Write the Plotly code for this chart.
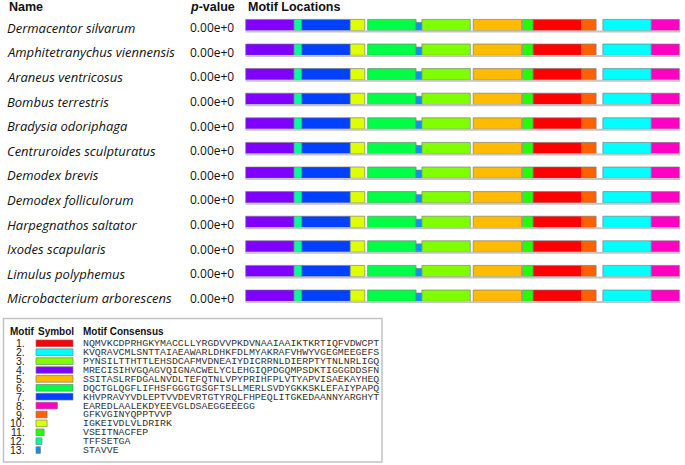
import plotly.graph_objects as go

# ---------------- data ----------------
species = [
    "Dermacentor silvarum", "Amphitetranychus viennensis", "Araneus ventricosus",
    "Bombus terrestris", "Bradysia odoriphaga", "Centruroides sculpturatus",
    "Demodex brevis", "Demodex folliculorum", "Harpegnathos saltator",
    "Ixodes scapularis", "Limulus polyphemus", "Microbacterium arborescens",
]
p_values = ["0.00e+0"] * 12
seq_lengths = [449] * 12

motif_ids = list(range(1, 14))
motif_consensus = [
    "NQMVKCDPRHGKYMACCLLYRGDVVPKDVNAAIAAIKTKRTIQFVDWCPT",
    "KVQRAVCMLSNTTAIAEAWARLDHKFDLMYAKRAFVHWYVGEGMEEGEFS",
    "PYNSILTTHTTLEHSDCAFMVDNEAIYDICRRNLDIERPTYTNLNRLIGQ",
    "MRECISIHVGQAGVQIGNACWELYCLEHGIQPDGQMPSDKTIGGGDDSFN",
    "SSITASLRFDGALNVDLTEFQTNLVPYPRIHFPLVTYAPVISAEKAYHEQ",
    "DQCTGLQGFLIFHSFGGGTGSGFTSLLMERLSVDYGKKSKLEFAIYPAPQ",
    "KHVPRAVYVDLEPTVVDEVRTGTYRQLFHPEQLITGKEDAANNYARGHYT",
    "EAREDLAALEKDYEEVGLDSAEGGEEEGG",
    "GFKVGINYQPPTVVP",
    "IGKEIVDLVLDRIRK",
    "VSEITNACFEP",
    "TFFSETGA",
    "STAVVE",
]
motif_colors = [
    "#FF0000", "#00FFFF", "#80FF00", "#8000FF", "#FFBB00", "#00FF44", "#0040FF",
    "#FF00C4", "#FF6000", "#DDFF00", "#22FF00", "#00FF9C", "#0094FF",
]
motif_lengths = [len(s) for s in motif_consensus]

# sites found in every sequence (motif id, start residue, relative block height)
site_motifs = [4, 12, 7, 10, 6, 13, 3, 5, 11, 1, 9, 2, 8]
site_starts = [0, 50, 58, 108, 126, 176, 182, 235, 286, 297, 347, 369, 419]
site_heights = [1, 1, 1, 1, 1, 0.73, 1, 1, 1, 1, 1, 1, 1]

# ---------------- layout constants ----------------
W, H = 685, 465
X0_PX, PX_PER_RES = 245.7, 0.968
ROW0_PX, ROW_PX = 30.7, 24.6
BLOCK = 11.3 / ROW_PX
LX0_PX, LPX_PER_RES = 36.0, 0.74
LROW0_PX, LROW_PX = 343.3, 8.9

fig = go.Figure()

rows = list(range(len(species)))

# sequence lines
lx, ly = [], []
for i, L in zip(rows, seq_lengths):
    lx += [0, L, None]
    ly += [i + 0.03, i + 0.03, None]
fig.add_trace(go.Scatter(x=lx, y=ly, mode="lines", line=dict(color="#c4c4c4", width=2),
                         hoverinfo="skip", showlegend=False, xaxis="x", yaxis="y"))

# motif blocks
for m, s, h in zip(site_motifs, site_starts, site_heights):
    fig.add_trace(go.Bar(
        orientation="h",
        y=[i - BLOCK * h / 2 for i in rows],
        x=[motif_lengths[m - 1]] * len(rows),
        base=[s] * len(rows),
        width=[BLOCK * h] * len(rows),
        marker=dict(color=motif_colors[m - 1], line=dict(color="rgba(120,120,120,0.65)", width=1)),
        showlegend=False, xaxis="x", yaxis="y", name=f"Motif {m}",
    ))

# legend symbol bars
fig.add_trace(go.Bar(
    orientation="h",
    y=[j for j in range(len(motif_ids))],
    x=motif_lengths,
    base=[0] * len(motif_ids),
    width=[0.75] * len(motif_ids),
    marker=dict(color=motif_colors, line=dict(color="rgba(120,120,120,0.65)", width=1)),
    showlegend=False, xaxis="x2", yaxis="y2",
))

annotations = []
sans_b = "Liberation Sans, Arial, sans-serif"
name_font = dict(family="Open Sans, sans-serif", size=13, color="#111")

for i, (nm, pv) in enumerate(zip(species, p_values)):
    annotations.append(dict(text=f"<i>{nm}</i>", x=4.5 / W, xref="paper", xanchor="left",
                            y=i - 0.12, yref="y", yanchor="middle", showarrow=False, font=name_font))
    annotations.append(dict(text=pv, x=236 / W, xref="paper", xanchor="right",
                            y=i - 0.12, yref="y", yanchor="middle", showarrow=False,
                            font=dict(family="Open Sans, sans-serif", size=12, color="#111")))

hy = 1 - 6.8 / H
annotations += [
    dict(text="<b>Name</b>", x=7 / W, xanchor="left", y=hy, yanchor="middle"),
    dict(text="<b><i>p</i>-value</b>", x=237 / W, xanchor="right", y=hy, yanchor="middle"),
    dict(text="<b>Motif Locations</b>", x=245.5 / W, xanchor="left", y=hy, yanchor="middle"),
]
for a in annotations[-3:]:
    a.update(xref="paper", yref="paper", showarrow=False, font=dict(family=sans_b, size=12.5, color="#111"))

ly_h = 1 - 331.5 / H
for txt, xp in [("Motif", 7.5), ("Symbol", 35.5), ("Motif Consensus", 81)]:
    annotations.append(dict(text=f"<b>{txt}</b>", x=xp / W, xref="paper", xanchor="left",
                            y=ly_h, yref="paper", yanchor="middle", showarrow=False,
                            font=dict(family=sans_b, size=10, color="#111")))

for j, (mid, cons) in enumerate(zip(motif_ids, motif_consensus)):
    annotations.append(dict(text=f"{mid}.", x=27 / W, xref="paper", xanchor="right",
                            y=j, yref="y2", yanchor="middle", showarrow=False,
                            font=dict(family=sans_b, size=10.5, color="#222")))
    annotations.append(dict(text=cons, x=80.5 / W, xref="paper", xanchor="left",
                            y=j + 0.05, yref="y2", yanchor="middle", showarrow=False,
                            font=dict(family="Courier New, Liberation Mono, monospace", size=9.9, color="#333")))

fig.update_layout(
    width=W, height=H, margin=dict(l=0, r=0, t=0, b=0),
    paper_bgcolor="white", plot_bgcolor="rgba(0,0,0,0)", barmode="overlay",
    showlegend=False,
    xaxis=dict(domain=[0, 1], range=[-X0_PX / PX_PER_RES, (W - X0_PX) / PX_PER_RES],
               visible=False, fixedrange=True),
    yaxis=dict(domain=[0, 1], range=[(H - ROW0_PX) / ROW_PX, -ROW0_PX / ROW_PX],
               visible=False, fixedrange=True, anchor="x"),
    xaxis2=dict(domain=[0, 1], range=[-LX0_PX / LPX_PER_RES, (W - LX0_PX) / LPX_PER_RES],
                visible=False, fixedrange=True, anchor="y2", overlaying="x"),
    yaxis2=dict(domain=[0, 1], range=[(H - LROW0_PX) / LROW_PX, -LROW0_PX / LROW_PX],
                visible=False, fixedrange=True, anchor="x2", overlaying="y"),
    annotations=annotations,
    shapes=[dict(type="rect", xref="paper", yref="paper",
                 x0=3.5 / W, x1=382 / W, y0=1 - 462 / H, y1=1 - 318.5 / H,
                 line=dict(color="#c2c2c2", width=1.5), fillcolor="rgba(0,0,0,0)", layer="above")],
)

fig.write_html("out.html", config={"displayModeBar": False},
               post_script="document.body.style.margin='0';document.body.style.overflow='hidden';")
